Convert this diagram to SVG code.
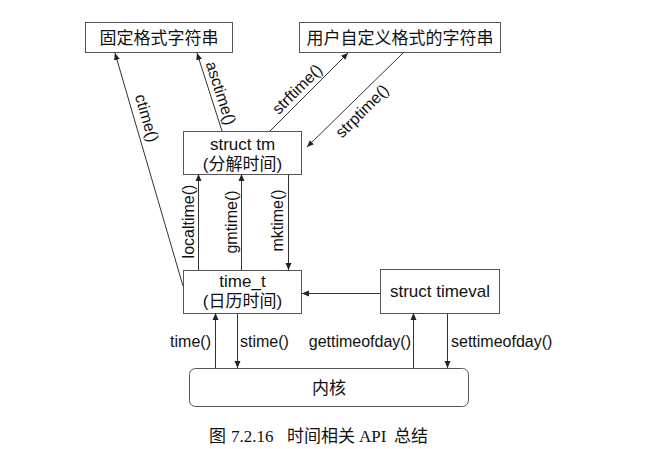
<svg xmlns="http://www.w3.org/2000/svg" width="658" height="449" viewBox="0 0 658 449">
<defs>
<marker id="arr" markerWidth="8" markerHeight="8" refX="7" refY="4" orient="auto" markerUnits="userSpaceOnUse">
<path d="M0,1 L7,4 L0,7 Z" fill="#222"/>
</marker>
<style>
.box{fill:#fff;stroke:#555;stroke-width:1}
.bt{font-family:"Liberation Sans","Noto Sans CJK SC",sans-serif;font-size:17px;fill:#111;text-anchor:middle}
.lbl{font-family:"Liberation Sans",sans-serif;font-size:16px;fill:#111}
.c{text-anchor:middle}
.ln{stroke:#333;stroke-width:1;fill:none;marker-end:url(#arr)}
.cap{font-family:"Liberation Serif","Noto Sans CJK SC",serif;font-size:17px;fill:#111}
</style>
</defs>
<rect width="658" height="449" fill="#fff"/>
<g id="fixed">
<rect class="box" x="85.5" y="22.5" width="147" height="30"/>
<text class="bt" x="159" y="44">固定格式字符串</text>
</g>
<g id="custom">
<rect class="box" x="299.5" y="22.5" width="201" height="30"/>
<text class="bt" x="400" y="44">用户自定义格式的字符串</text>
</g>
<g id="tm">
<rect class="box" x="183.5" y="131.5" width="118" height="43"/>
<text class="bt" x="242.5" y="150">struct tm</text>
<text class="bt" x="242.5" y="170">(分解时间)</text>
</g>
<g id="time_t">
<rect class="box" x="183.5" y="270.5" width="118" height="43"/>
<text class="bt" x="242.5" y="287">time_t</text>
<text class="bt" x="242.5" y="307">(日历时间)</text>
</g>
<g id="timeval">
<rect class="box" x="380.5" y="269.5" width="119" height="44"/>
<text class="bt" x="440" y="297">struct timeval</text>
</g>
<g id="kernel">
<rect class="box" x="189.5" y="368.5" width="279" height="38" rx="6"/>
<text class="bt" x="329" y="394">内核</text>
</g>
<g id="connectors">
<line class="ln" x1="183" y1="286" x2="115" y2="53"/>
<line class="ln" x1="222" y1="131" x2="197" y2="53"/>
<line class="ln" x1="270" y1="131" x2="348" y2="53"/>
<line class="ln" x1="403" y1="53" x2="307" y2="147"/>
<line class="ln" x1="198.5" y1="270" x2="198.5" y2="174"/>
<line class="ln" x1="241.5" y1="270" x2="241.5" y2="174"/>
<line class="ln" x1="288.5" y1="175" x2="288.5" y2="270"/>
<line class="ln" x1="380" y1="293.5" x2="302" y2="293.5"/>
<line class="ln" x1="215.5" y1="368" x2="215.5" y2="313"/>
<line class="ln" x1="237.5" y1="314" x2="237.5" y2="368"/>
<line class="ln" x1="413.5" y1="368" x2="413.5" y2="313"/>
<line class="ln" x1="447.5" y1="314" x2="447.5" y2="368"/>
<text class="lbl c" transform="translate(147,118) rotate(74)" dy="0.35em">ctime()</text>
<text class="lbl c" transform="translate(221,93) rotate(72)" dy="0.35em">asctime()</text>
<text class="lbl c" transform="translate(297,89) rotate(-45)" dy="0.35em">strftime()</text>
<text class="lbl c" transform="translate(362,111) rotate(-45)" dy="0.35em">strptime()</text>
<text class="lbl c" transform="translate(188.5,221.5) rotate(-90)" dy="0.35em">localtime()</text>
<text class="lbl c" transform="translate(231,222) rotate(-90)" dy="0.35em">gmtime()</text>
<text class="lbl c" transform="translate(277.5,220.5) rotate(-90)" dy="0.35em">mktime()</text>
<text class="lbl" x="211" y="347" text-anchor="end">time()</text>
<text class="lbl" x="240" y="347">stime()</text>
<text class="lbl" x="411" y="347" text-anchor="end">gettimeofday()</text>
<text class="lbl" x="451" y="347">settimeofday()</text>
</g>
<text class="cap" y="442"><tspan x="209">图</tspan><tspan x="231">7.2.16</tspan><tspan x="287">时间相关</tspan><tspan x="359">API</tspan><tspan x="394">总结</tspan></text>
</svg>
